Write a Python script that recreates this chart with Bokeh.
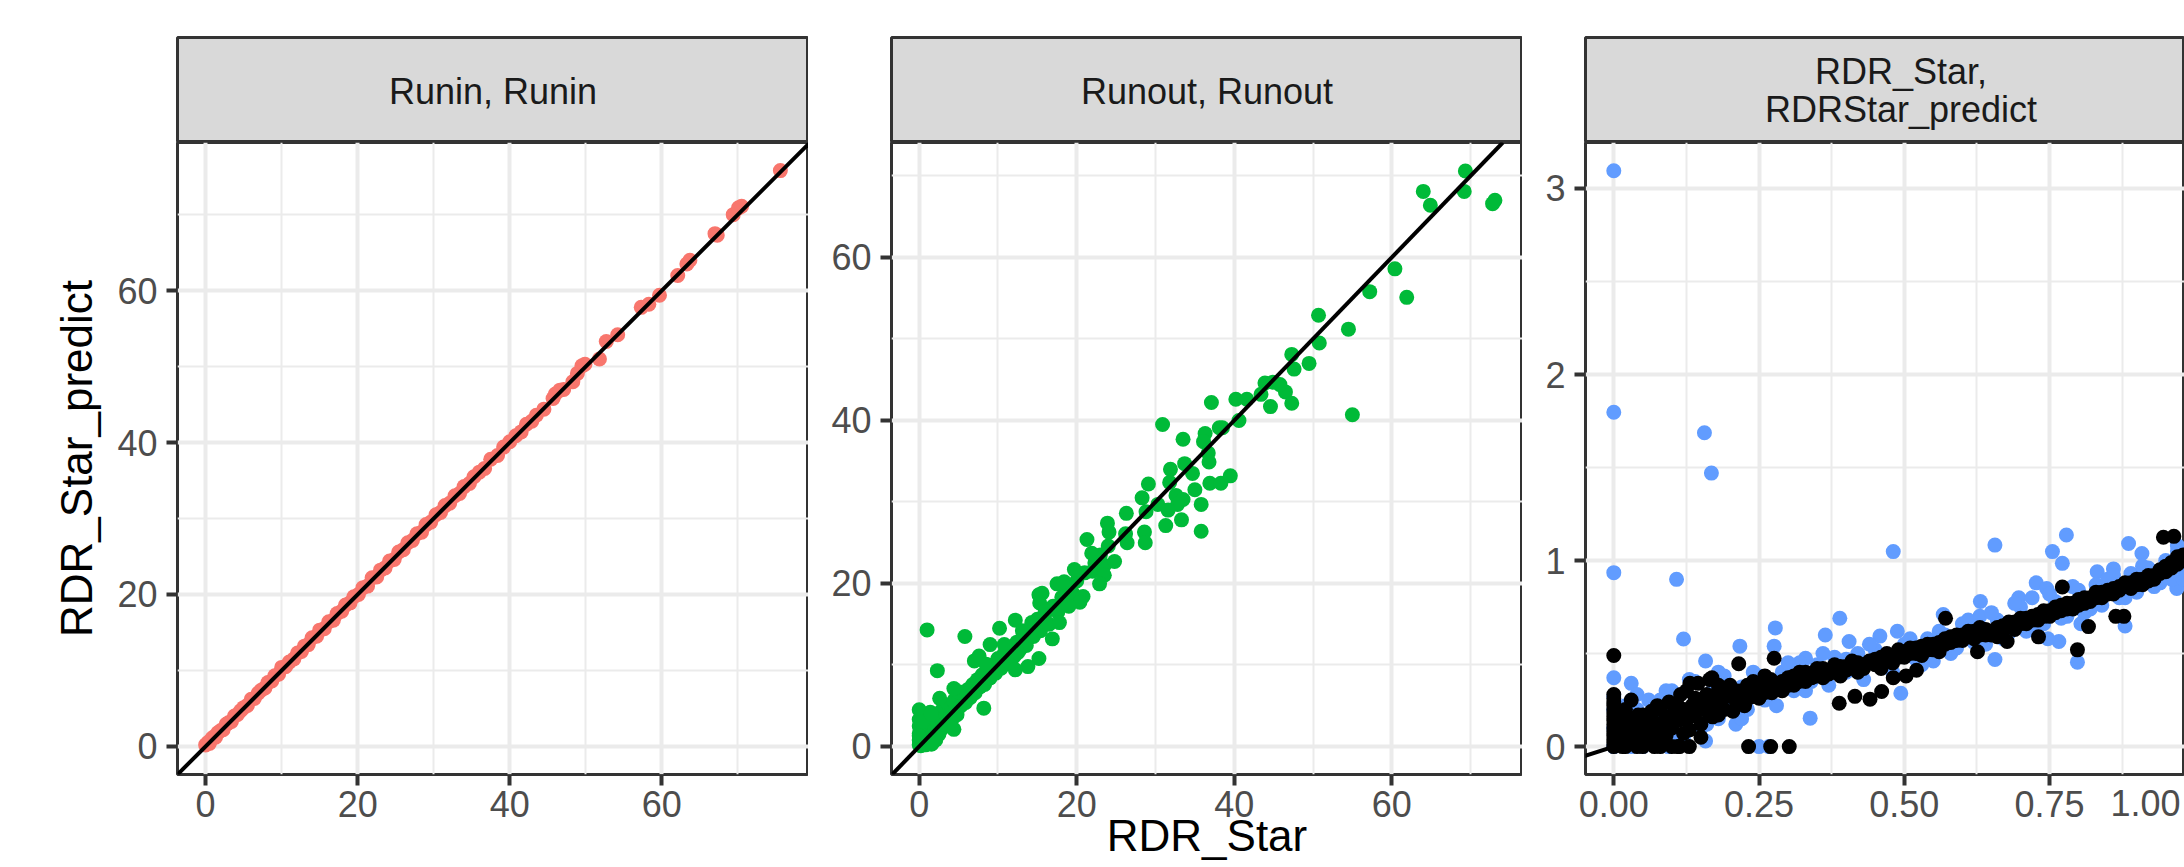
from bokeh.plotting import figure
from bokeh.layouts import row, column
from bokeh.models import Range1d, FixedTicker, Slope, NumeralTickFormatter, LinearAxis
from bokeh.embed import file_html
from bokeh.resources import INLINE
from bokeh.core.properties import value

FONT = "Liberation Sans"

# ---------------- data ----------------
strip_labels = ["Runin, Runin", "Runout, Runout", ["RDR_Star,", "RDRStar_predict"]]
x_title = "RDR_Star"
y_title = "RDR_Star_predict"

runin_x = [0, 0.3, 0.5, 0.8, 1.0, 1.3, 1.6, 2.0, 2.3, 2.7, 3.0, 3.4, 3.8, 4.2, 4.6, 5.0, 5.5, 6.0, 6.4, 6.9,
           7.3, 7.8, 8.2, 8.7, 9.1, 9.6, 10.0, 10.5, 11.0, 11.6, 12.1, 12.6, 13.0, 13.5, 14.0, 14.6, 15.0, 15.6,
           16.2, 16.8, 17.3, 17.9, 18.4, 19.0, 19.5, 20.1, 20.7, 21.3, 21.9, 22.5, 23.0, 23.6, 24.2, 24.8, 25.4,
           26.0, 26.6, 27.2, 27.8, 28.4, 29.0, 29.6, 30.3, 30.9, 31.5, 32.1, 32.8, 33.4, 34.0, 34.7, 35.3, 36.0,
           36.7, 37.5, 38.4, 39.2, 40.0, 40.8, 41.5, 42.2, 42.9, 43.5, 44.5, 45.7, 46.0, 46.6, 47.1, 48.3, 48.9,
           49.5, 49.9, 51.8, 52.7, 54.2, 57.3, 58.3, 59.7, 62.1, 63.3, 63.7, 67.0, 67.3, 69.4, 70.1, 70.5, 75.6]
runin_y = [0.2, 0.5, 0.4, 1.0, 1.2, 1.2, 1.8, 2.1, 2.2, 2.9, 3.1, 3.3, 4.0, 4.2, 4.7, 5.1, 5.4, 6.2, 6.3, 7.0,
           7.4, 7.7, 8.4, 8.6, 9.3, 9.5, 10.4, 10.5, 11.1, 11.5, 12.3, 12.5, 13.2, 13.4, 14.3, 14.5, 15.3, 15.5,
           16.4, 16.6, 17.5, 17.8, 18.6, 18.9, 19.7, 20.0, 20.9, 21.1, 22.2, 22.3, 23.2, 23.5, 24.4, 24.6, 25.6,
           25.9, 26.8, 27.1, 28.0, 28.2, 29.2, 29.5, 30.5, 30.8, 31.7, 32.0, 33.0, 33.3, 34.2, 34.6, 35.5, 36.1,
           36.6, 37.8, 38.3, 39.4, 40.1, 40.9, 41.4, 42.4, 42.8, 43.6, 44.4, 45.8, 46.4, 46.9, 47.0, 48.0, 49.1,
           50.1, 50.3, 51.0, 53.3, 54.2, 57.8, 58.2, 59.4, 62.0, 63.5, 64.0, 67.5, 67.3, 70.0, 70.9, 71.1, 75.8]

runout_x = [0, 0, 0, 0, 0, 0.2, 0.3, 0.4, 0.5, 0.6, 0.7, 0.8, 0.9, 1.0, 1.1, 1.2, 1.3, 1.4, 1.5, 1.6, 1.7, 1.8,
            2.0, 2.1, 2.2, 2.4, 2.5, 2.7, 2.9, 3.0, 3.2, 3.4, 3.6, 3.8, 4.0, 4.2, 4.4, 4.6, 4.8, 5.0, 5.3, 5.6,
            5.9, 6.2, 6.5, 6.8, 7.1, 7.4, 7.7, 8.0, 8.3, 8.6, 9.0, 9.3, 9.7, 10.0, 10.4, 10.8, 11.2, 11.6, 12.0,
            12.4, 12.8, 13.2, 13.6, 14.0, 14.5, 15.0, 15.4, 16.0, 16.5, 17.0, 17.6, 18.2, 18.8, 19.5, 20.0, 21.0,
            22.0, 23.0, 24.0,
            69.35, 69.2, 64.0, 64.9, 72.8, 73.1, 60.4, 61.9, 57.2, 50.7, 50.8, 54.5, 55.0, 47.3, 47.6, 49.5, 46.5,
            47.3, 43.9, 44.9, 45.8, 44.6, 43.4, 40.2, 41.6, 40.6, 37.1, 38.1, 38.5, 36.3, 36.1, 36.7, 36.8, 36.9,
            38.3, 39.5, 33.5, 30.9, 31.9, 33.7, 34.7, 35.0, 31.8, 32.6, 33.5, 32.8, 35.8, 30.3, 31.6, 31.3, 33.3,
            35.8, 29.1, 28.3, 28.8, 28.6, 28.7, 26.3, 23.9, 24.1, 26.2, 26.4, 21.3, 21.9, 22.3, 23.5, 24.8, 23.5,
            19.7, 22.9, 20.8, 20.4, 17.5, 18.4, 18.1, 19.0, 17.8, 15.2, 15.6, 15.3, 16.0, 16.9, 15.2, 13.8, 12.2,
            14.3, 13.1, 12.5, 12.2, 10.2, 9.0, 10.8, 8.2, 5.8, 1.0, 2.3, 7.0, 7.6, 8.5, 5.0, 4.4, 2.6, 0, 0.3,
            1.5, 3.2, 4.4, 0, 1.5]
runout_y = [0.2, 0.8, 1.6, 2.5, 3.3, 0.1, 1.0, 2.0, 0.4, 3.8, 1.4, 0.2, 2.6, 0.6, 1.8, 3.2, 0.9, 4.2, 2.3, 0.3,
            1.5, 3.0, 2.0, 0.8, 4.0, 2.8, 1.5, 3.5, 2.2, 4.6, 2.7, 3.8, 3.0, 5.0, 4.1, 3.4, 5.6, 4.5, 3.9, 6.0,
            5.0, 6.6, 5.4, 7.0, 6.0, 7.6, 6.6, 8.2, 7.3, 8.8, 7.6, 9.4, 8.4, 10.0, 9.0, 10.8, 9.6, 11.4, 10.5,
            12.0, 11.0, 12.8, 11.9, 13.6, 12.4, 14.4, 13.5, 15.6, 14.2, 16.3, 15.0, 17.2, 16.5, 18.0, 19.2, 18.8,
            20.3, 21.3, 21.5, 23.5, 24.6,
            70.6, 68.1, 68.1, 66.4, 66.6, 67.0, 58.6, 55.1, 55.8, 52.9, 49.5, 51.2, 40.7, 48.1, 46.3, 47.0, 43.5,
            42.1, 44.6, 44.7, 44.4, 41.7, 43.2, 42.6, 42.6, 40.0, 42.2, 39.1, 39.1, 38.4, 37.4, 36.0, 34.9, 32.3,
            32.3, 33.2, 37.7, 39.5, 34.0, 34.7, 33.5, 31.5, 32.4, 30.8, 30.3, 29.7, 29.7, 29.7, 29.0, 27.1, 27.8,
            26.4, 32.2, 30.5, 28.8, 26.3, 25.0, 28.6, 27.4, 26.3, 26.1, 25.0, 25.4, 23.7, 22.5, 22.2, 22.7, 21.0,
            21.7, 19.95, 18.4, 17.7, 19.95, 20.2, 18.3, 17.2, 15.2, 18.6, 18.8, 17.6, 16.6, 13.2, 10.8, 9.8, 15.5,
            15.2, 14.2, 11.5, 9.4, 14.5, 12.5, 12.5, 4.7, 13.5, 14.3, 9.3, 10.5, 11.1, 10.1, 6.7, 7.1, 5.9, 4.5,
            3.0, 4.0, 2.7, 2.1, 1.3, 0.3]

rdr_blue_x = [0, 0, 0.156, 0.168, 0, 0.108, 0.481, 0.656, 0.779, 0.755, 0.772, 0.886, 0.909, 0.12, 0.278, 0.217,
              0.389, 0.364, 0.276, 0.158, 0.03, 0, 0.338, 0.494, 0.656, 0.798, 0.88, 0.969, 0.631, 0.697, 0.727,
              0.745, 0.832, 0.86, 0.567, 0.458, 0.488, 0.405, 0.33, 0.25, 0.267, 0.158, 0.094, 0.766, 0.747, 0.804,
              0, 0, 0, 0, 0.01, 0.02, 0.03, 0.04, 0.05, 0.06, 0.07, 0.08, 0.09, 0.1, 0.12, 0.13, 0.14, 0.15, 0.17,
              0.18, 0.19, 0.2, 0.21, 0.22, 0.23, 0.24, 0.26, 0.27, 0.28, 0.29, 0.31, 0.32, 0.34, 0.35, 0.37, 0.38,
              0.4, 0.42, 0.43, 0.45, 0.47, 0.5, 0.52, 0.54, 0.55, 0.57, 0.59, 0.6, 0.62, 0.63, 0.64, 0.66, 0.68,
              0.7, 0.71, 0.72, 0.74, 0.76, 0.78, 0.8, 0.81, 0.83, 0.84, 0.85, 0.87, 0.89, 0.9, 0.92, 0.93, 0.95,
              0.96, 0.97, 0.98,
              0.01, 0.03, 0.04, 0.06, 0.08, 0.1, 0.11, 0.14, 0.16, 0.18, 0.2, 0.22, 0.25, 0.3, 0.33, 0.36, 0.4,
              0.44, 0.48, 0.51, 0.53, 0.56, 0.58, 0.61, 0.65, 0.67, 0.69, 0.73, 0.75, 0.77, 0.79, 0.82, 0.86,
              0.88, 0.91, 0.94, 0.97, 0.98]
rdr_blue_y = [3.095, 1.797, 1.687, 1.47, 0.935, 0.899, 1.048, 1.083, 1.137, 1.048, 0.985, 1.092, 1.038, 0.578,
              0.638, 0.54, 0.69, 0.6, 0.54, 0.46, 0.34, 0.37, 0.153, 0.287, 0.468, 0.454, 0.648, 0.85, 0.78, 0.8,
              0.88, 0.85, 0.94, 0.955, 0.71, 0.594, 0.62, 0.565, 0.475, 0.0, 0.0, 0.03, 0.0, 0.565, 0.58, 0.66,
              0.0, 0.1, 0.2, 0.27, 0.05, 0.22, 0.12, 0.28, 0.0, 0.25, 0.15, 0.05, 0.3, 0.18, 0.05, 0.36, 0.25, 0.1,
              0.3, 0.15, 0.38, 0.22, 0.12, 0.32, 0.2, 0.4, 0.25, 0.35, 0.22, 0.4, 0.3, 0.45, 0.35, 0.44, 0.33,
              0.48, 0.4, 0.5, 0.36, 0.52, 0.45, 0.55, 0.47, 0.58, 0.46, 0.6, 0.53, 0.66, 0.56, 0.7, 0.55, 0.68,
              0.61, 0.75, 0.62, 0.8, 0.66, 0.78, 0.7, 0.84, 0.72, 0.87, 0.76, 0.9, 0.8, 0.93, 0.83, 0.96, 0.86,
              1.0, 0.9, 1.05, 0.95,
              0.15, 0.0, 0.2, 0.1, 0.25, 0.3, 0.05, 0.35, 0.12, 0.4, 0.3, 0.15, 0.38, 0.45, 0.3, 0.5, 0.47,
              0.55, 0.4, 0.58, 0.44, 0.62, 0.5, 0.68, 0.72, 0.58, 0.77, 0.64, 0.82, 0.69, 0.86, 0.74, 0.92,
              0.8, 0.97, 0.88, 1.08, 0.9]

rdr_black_x = [0, 0, 0, 0, 0, 0, 0, 0, 0, 0.005, 0.008, 0.01, 0.012, 0.015, 0.018, 0.02, 0.025, 0.028, 0.03,
               0.035, 0.04, 0.042, 0.045, 0.05, 0.055, 0.06, 0.065, 0.07, 0.075, 0.08, 0.085, 0.09, 0.095, 0.1,
               0.105, 0.11, 0.113, 0.115, 0.12, 0.125, 0.13, 0.131, 0.135, 0.14, 0.145, 0.15, 0.155, 0.16, 0.165,
               0.169, 0.17, 0.175, 0.18, 0.185, 0.19, 0.2, 0.205, 0.21, 0.215, 0.22, 0.225, 0.232, 0.235, 0.24,
               0.25, 0.255, 0.26, 0.27, 0.272, 0.276, 0.28, 0.29, 0.3, 0.302, 0.31, 0.32, 0.33, 0.34, 0.35, 0.36,
               0.37, 0.38, 0.388, 0.39, 0.4, 0.41, 0.415, 0.42, 0.43, 0.441, 0.45, 0.46, 0.461, 0.47, 0.48, 0.481,
               0.49, 0.5, 0.503, 0.51, 0.52, 0.521, 0.53, 0.54, 0.55, 0.56, 0.57, 0.571, 0.58, 0.59, 0.6, 0.61,
               0.62, 0.626, 0.63, 0.64, 0.65, 0.66, 0.67, 0.677, 0.68, 0.69, 0.7, 0.71, 0.72, 0.73, 0.731, 0.74,
               0.75, 0.76, 0.77, 0.772, 0.78, 0.79, 0.798, 0.8, 0.81, 0.817, 0.82, 0.83, 0.84, 0.85, 0.86, 0.864,
               0.87, 0.878, 0.88, 0.89, 0.9, 0.91, 0.92, 0.93, 0.94, 0.946, 0.95, 0.96, 0.964, 0.97, 0.98,
               0, 0, 0, 0, 0, 0, 0, 0.02, 0.02, 0.03, 0.04, 0.05, 0.05, 0.06, 0.07, 0.07, 0.08, 0.08, 0.09, 0.1,
               0.1, 0.11, 0.12, 0.12, 0.13, 0.13, 0.14, 0.15, 0.15, 0.16, 0.17, 0.18, 0.18, 0.19, 0.2, 0.21, 0.22,
               0.23, 0.24, 0.25, 0.26, 0.27, 0.28, 0.29, 0.3, 0.31, 0.32, 0.33, 0.34, 0.35, 0.36, 0.37, 0.38, 0.39,
               0.4, 0.41, 0.42, 0.43, 0.44, 0.45, 0.46, 0.47, 0.48, 0.49, 0.5, 0.51, 0.52, 0.53, 0.54, 0.55, 0.56,
               0.57, 0.58, 0.59, 0.6, 0.61, 0.62, 0.63, 0.64, 0.65, 0.66, 0.67, 0.68, 0.69, 0.7, 0.71, 0.72, 0.73,
               0.74, 0.75, 0.76, 0.77, 0.78, 0.79, 0.8, 0.81, 0.82, 0.83, 0.84, 0.85, 0.86, 0.87, 0.88, 0.89, 0.9,
               0.91, 0.92, 0.93, 0.94, 0.95, 0.96, 0.97, 0.98]
rdr_black_y = [0.0, 0.04, 0.08, 0.12, 0.16, 0.2, 0.24, 0.28, 0.49, 0.02, 0.1, 0.14, 0.06, 0.0, 0.18, 0.1, 0.03,
               0.15, 0.07, 0.12, 0.0, 0.17, 0.05, 0.11, 0.02, 0.14, 0.19, 0.07, 0.22, 0.12, 0.03, 0.16, 0.24, 0.1,
               0.2, 0.0, 0.0, 0.28, 0.15, 0.3, 0.09, 0.34, 0.22, 0.18, 0.34, 0.12, 0.26, 0.2, 0.36, 0.37, 0.16,
               0.24, 0.3, 0.21, 0.27, 0.33, 0.19, 0.25, 0.445, 0.3, 0.22, 0.0, 0.28, 0.35, 0.26, 0.31, 0.38, 0.0,
               0.29, 0.475, 0.34, 0.3, 0.37, 0.0, 0.33, 0.4, 0.35, 0.39, 0.42, 0.37, 0.41, 0.44, 0.233, 0.38, 0.43,
               0.46, 0.27, 0.4, 0.44, 0.255, 0.47, 0.42, 0.296, 0.5, 0.45, 0.37, 0.52, 0.48, 0.38, 0.5, 0.53, 0.41,
               0.49, 0.52, 0.55, 0.51, 0.58, 0.69, 0.56, 0.6, 0.57, 0.62, 0.58, 0.51, 0.64, 0.6, 0.62, 0.59, 0.65,
               0.565, 0.67, 0.63, 0.69, 0.66, 0.7, 0.68, 0.59, 0.73, 0.7, 0.75, 0.73, 0.858, 0.77, 0.74, 0.52, 0.79,
               0.77, 0.645, 0.8, 0.83, 0.8, 0.84, 0.82, 0.7, 0.86, 0.7, 0.88, 0.85, 0.9, 0.87, 0.92, 0.9, 0.95,
               1.125, 0.97, 0.99, 1.13, 1.02, 1.0,
               0.02, 0.06, 0.1, 0.14, 0.18, 0.22, 0.26, 0.0, 0.2, 0.25, 0.1, 0.17, 0.0, 0.08, 0.0, 0.13, 0.2, 0.0,
               0.06, 0.0, 0.14, 0.22, 0.07, 0.2, 0.0, 0.16, 0.26, 0.2, 0.05, 0.28, 0.22, 0.17, 0.33, 0.2, 0.27,
               0.3, 0.26, 0.33, 0.3, 0.33, 0.3, 0.36, 0.31, 0.35, 0.33, 0.38, 0.36, 0.4, 0.37, 0.39, 0.42, 0.39,
               0.41, 0.43, 0.41, 0.43, 0.45, 0.42, 0.46, 0.44, 0.48, 0.47, 0.49, 0.48, 0.51, 0.53, 0.5, 0.54,
               0.55, 0.52, 0.56, 0.55, 0.59, 0.57, 0.6, 0.59, 0.62, 0.6, 0.63, 0.6, 0.64, 0.62, 0.65, 0.67, 0.66,
               0.69, 0.68, 0.71, 0.7, 0.73, 0.72, 0.76, 0.74, 0.77, 0.76, 0.8, 0.78, 0.8, 0.83, 0.82, 0.85, 0.84,
               0.86, 0.88, 0.87, 0.9, 0.89, 0.92, 0.93, 0.94, 0.96, 0.98, 1.03]

ticks_big = [0, 20, 40, 60]
minor_big = [10, 30, 50, 70]
ticks_rdr_x = [0, 0.25, 0.5, 0.75, 1.0]
minor_rdr_x = [0.125, 0.375, 0.625, 0.875]
ticks_rdr_y = [0, 1, 2, 3]
minor_rdr_y = [0.5, 1.5, 2.5]
last_rdr_tick_label = "1.00"

COL_RUNIN = "#F8766D"
COL_RUNOUT = "#00BA38"
COL_RDR = "#619CFF"

# ---------------- layout geometry ----------------
STRIP_H = 142
MAIN_H = 725
FRAME_W = 631


def strip_fig(width, left, xr_end, lines):
    s = figure(width=width, height=STRIP_H, x_range=Range1d(0, xr_end), y_range=Range1d(0, 1),
               x_axis_type=None, y_axis_type=None, min_border_left=left, min_border_right=0,
               min_border_top=37, min_border_bottom=0, toolbar_location=None,
               output_backend="svg", title=None)
    s.background_fill_color = "#D9D9D9"
    s.border_fill_color = "white"
    s.outline_line_color = "#333333"
    s.outline_line_width = 3
    s.grid.visible = False
    if isinstance(lines, str):
        ys = [0.49]
        texts = [lines]
    else:
        ys = [0.675, 0.318]
        texts = lines
    s.text(x=[0.5] * len(texts), y=ys, text=texts, text_align="center", text_baseline="alphabetic",
           text_font=value(FONT), text_font_size="36px", text_color="#1A1A1A")
    return s


def style_axis(a):
    a.axis_line_color = None
    a.major_tick_line_color = "#333333"
    a.major_tick_line_width = 4
    a.major_tick_out = 11
    a.major_tick_in = 0
    a.minor_tick_line_color = None
    a.major_label_text_font = FONT
    a.major_label_text_font_size = "36px"
    a.major_label_text_color = "#4D4D4D"


def main_fig(width, left, xr, yr, xt, xm, yt, ym):
    p = figure(width=width, height=MAIN_H, x_range=Range1d(*xr), y_range=Range1d(*yr),
               min_border_left=left, min_border_right=0, min_border_top=0, min_border_bottom=93,
               toolbar_location=None, output_backend="svg", title=None)
    p.background_fill_color = "white"
    p.border_fill_color = "white"
    p.outline_line_color = "#333333"
    p.outline_line_width = 3
    p.xaxis.ticker = FixedTicker(ticks=xt)
    p.yaxis.ticker = FixedTicker(ticks=yt)
    p.xgrid.ticker = FixedTicker(ticks=xt, minor_ticks=xm)
    p.ygrid.ticker = FixedTicker(ticks=yt, minor_ticks=ym)
    for g in (p.xgrid, p.ygrid):
        g.grid_line_color = "#EBEBEB"
        g.grid_line_width = 4
        g.minor_grid_line_color = "#EBEBEB"
        g.minor_grid_line_width = 2
    for a in (p.xaxis, p.yaxis):
        style_axis(a)
    p.xaxis.major_label_standoff = 5
    p.yaxis.major_label_standoff = 9
    return p


# panel 1
s1 = strip_fig(177 + FRAME_W, 177, 1, strip_labels[0])
m1 = main_fig(177 + FRAME_W, 177, (-3.7, 79.3), (-3.7, 79.5), ticks_big, minor_big, ticks_big, minor_big)
m1.scatter(runin_x, runin_y, size=15, fill_color=COL_RUNIN, line_color=None)
m1.add_layout(Slope(gradient=1, y_intercept=0, line_color="black", line_width=4))
m1.yaxis.axis_label = y_title
m1.yaxis.axis_label_text_font = FONT
m1.yaxis.axis_label_text_font_size = "44px"
m1.yaxis.axis_label_text_font_style = "normal"
m1.yaxis.axis_label_text_color = "black"
m1.yaxis.axis_label_standoff = 13

# panel 2 (carries the shared x title)
s2 = strip_fig(83 + FRAME_W, 83, 1, strip_labels[1])
m2 = main_fig(83 + FRAME_W, 83, (-3.52, 76.6), (-3.44, 74.1), ticks_big, minor_big, ticks_big, minor_big)
m2.scatter(runout_x, runout_y, size=15, fill_color=COL_RUNOUT, line_color=None)
m2.add_layout(Slope(gradient=1, y_intercept=0, line_color="black", line_width=4))
m2.xaxis.axis_label = x_title
m2.xaxis.axis_label_text_font = FONT
m2.xaxis.axis_label_text_font_size = "44px"
m2.xaxis.axis_label_text_font_style = "normal"
m2.xaxis.axis_label_text_color = "black"
m2.xaxis.axis_label_standoff = -9

# panel 3 (its right part lies beyond the window edge, as in the reference)
W3 = 2184 - 808 - 83 - FRAME_W - 63  # frame width that remains visible
s3 = strip_fig(63 + W3, 63, W3 / FRAME_W, strip_labels[2])
x3_lo = -0.0487
x3_hi = x3_lo + W3 / 581.0
m3 = main_fig(63 + W3, 63, (x3_lo, x3_hi), (-0.15, 3.247), ticks_rdr_x, minor_rdr_x, ticks_rdr_y, minor_rdr_y)
m3.xaxis.formatter = NumeralTickFormatter(format="0.00")
m3.scatter(rdr_blue_x, rdr_blue_y, size=15, fill_color=COL_RDR, line_color=None)
m3.scatter(rdr_black_x, rdr_black_y, size=15, fill_color="black", line_color=None)
m3.add_layout(Slope(gradient=1, y_intercept=0, line_color="black", line_width=4))

# the "1.00" label sits at the window edge; shown whole, just inside it
edge_pos = 0.915
extra = LinearAxis(ticker=FixedTicker(ticks=[edge_pos]), major_label_overrides={edge_pos: last_rdr_tick_label})
style_axis(extra)
extra.major_tick_line_color = None
extra.major_tick_out = 0
extra.major_label_standoff = -30
m3.add_layout(extra, "below")

layout = row(column(s1, m1), column(s2, m2), column(s3, m3))
open("out.html", "w").write(file_html(layout, INLINE))
